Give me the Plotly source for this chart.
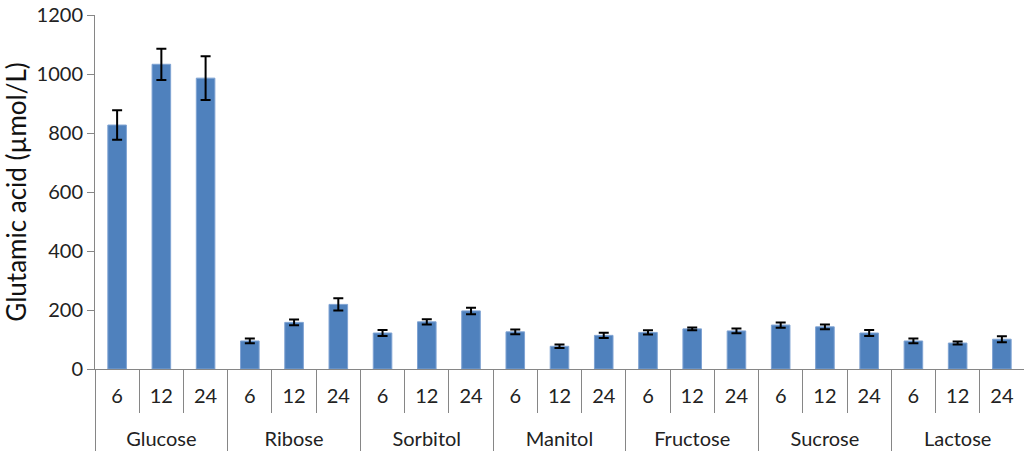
import plotly.graph_objects as go

sugars = ["Glucose", "Ribose", "Sorbitol", "Manitol", "Fructose", "Sucrose", "Lactose"]
times = ["6", "12", "24"]
values = [827, 1033, 986,
          95, 158, 219,
          122, 160, 197,
          126, 77, 114,
          124, 136, 129,
          149, 143, 122,
          95, 88, 101]
errors = [50, 53, 74,
          8, 10, 21,
          10, 9, 11,
          8, 6, 9,
          7, 5, 8,
          9, 8, 10,
          8, 5, 10]

x_outer = [s for s in sugars for _ in times]
# the trailing blank line pushes the group labels one line further down
x_inner = [t + "<br>&nbsp;" for _ in sugars for t in times]

fig = go.Figure(go.Bar(
    x=[x_outer, x_inner],
    y=values,
    marker=dict(color="#4F81BD", line=dict(color="#7FA3D3", width=1)),
    error_y=dict(type="data", array=errors, color="black", thickness=2, width=5, visible=True),
))

axis_gray = "#868686"
fig.update_layout(
    width=1024, height=455,
    margin=dict(l=95, r=0, t=15, b=86),
    plot_bgcolor="white", paper_bgcolor="white",
    bargap=0.58,
    showlegend=False,
    font=dict(family="Lato, Open Sans, sans-serif", color="#222222"),
    xaxis=dict(
        type="multicategory", automargin=False,
        showline=True, linecolor=axis_gray, linewidth=1,
        ticks="outside", tickson="boundaries", ticklen=43, tickcolor=axis_gray,
        showdividers=True, dividercolor=axis_gray, dividerwidth=1,
        tickfont=dict(size=20, color="#222222"),
        ticklabelstandoff=9,
        showgrid=False,
    ),
    yaxis=dict(
        range=[0, 1200], dtick=200, automargin=False,
        showline=True, linecolor=axis_gray, linewidth=1,
        ticks="outside", ticklen=7, tickcolor=axis_gray,
        ticklabeloverflow="allow",
        showgrid=False, zeroline=False,
        tickfont=dict(size=20, color="#222222"),
        title=dict(text="Glutamic acid (µmol/L)", font=dict(size=26, color="#111111"), standoff=6),
    ),
)

fig.write_html(
    "out.html",
    config={"displayModeBar": False},
    post_script="document.body.style.margin='0';document.body.style.overflow='hidden';",
)
